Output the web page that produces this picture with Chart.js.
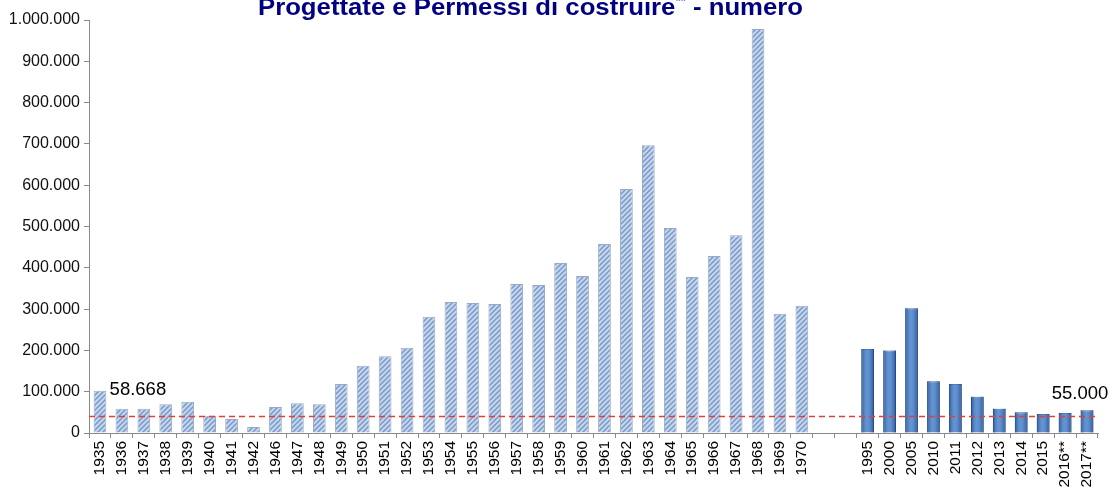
<!DOCTYPE html>
<html>
<head>
<meta charset="utf-8">
<script src="https://cdn.jsdelivr.net/npm/chart.js@4/dist/chart.umd.min.js"></script>
<style>
  body { margin: 0; background: #fff; }
  #wrap { width: 1113px; height: 487px; position: relative; }
</style>
</head>
<body>
<div id="wrap"><canvas id="chart"></canvas></div>
<script>
// Data
const years = ["1935", "1936", "1937", "1938", "1939", "1940", "1941", "1942",
  "1946", "1947", "1948", "1949", "1950", "1951", "1952", "1953", "1954", "1955",
  "1956", "1957", "1958", "1959", "1960", "1961", "1962", "1963", "1964", "1965",
  "1966", "1967", "1968", "1969", "1970", "", "",
  "1995", "2000", "2005", "2010", "2011", "2012", "2013", "2014", "2015", "2016**", "2017**"];
const permits = [102000, 58668, 58800, 69500, 75800, 41900, 33900, 14500,
  63000, 72000, 69500, 118600, 163000, 185700, 206500, 281600, 317000, 314700,
  312300, 360700, 358300, 411600, 380000, 457600, 590700, 697000, 496300, 377700,
  428500, 479000, 978000, 288800, 308200, null, null,
  203400, 200000, 301900, 125200, 118600, 88000, 58800, 50000, 46000, 48400, 55000];
const firstRecent = 35; // index of 1995
const refLevel = 40500;
const yTicks = [0, 100000, 200000, 300000, 400000, 500000, 600000, 700000, 800000, 900000, 1000000];
const titleMain = "Progettate e Permessi di costruire";
const titleSup = "**";
const titleEnd = " - numero";
const noteFirst = "58.668";
const noteLast = "55.000";

const FONT = "'Liberation Sans', Arial, sans-serif";

function fmt(v) {
  return String(v).replace(/\B(?=(\d{3})+(?!\d))/g, ".");
}

// hatch pattern for the historical bars
function hatch() {
  const c = document.createElement("canvas");
  c.width = 5; c.height = 5;
  const g = c.getContext("2d");
  g.fillStyle = "#c3d6ee";
  g.fillRect(0, 0, 5, 5);
  g.strokeStyle = "#7896c4";
  g.lineWidth = 1.4;
  g.beginPath();
  g.moveTo(-1, 6); g.lineTo(6, -1);
  g.moveTo(-1, 1); g.lineTo(1, -1);
  g.moveTo(4, 6); g.lineTo(6, 4);
  g.stroke();
  return g.createPattern(c, "repeat");
}
const hatchFill = hatch();

const extras = {
  id: "extras",
  afterDatasetsDraw(chart) {
    const { ctx, chartArea, scales } = chart;
    const x = scales.x, y = scales.y;
    const meta = chart.getDatasetMeta(0);
    ctx.save();
    // shading on recent bars
    meta.data.forEach((bar, i) => {
      if (i < firstRecent || permits[i] == null) return;
      const l = bar.x - bar.width / 2, r = bar.x + bar.width / 2;
      const gr = ctx.createLinearGradient(l, 0, r, 0);
      gr.addColorStop(0, "rgba(10,40,100,0.5)");
      gr.addColorStop(0.45, "rgba(255,255,255,0.2)");
      gr.addColorStop(1, "rgba(10,40,100,0.5)");
      ctx.fillStyle = gr;
      ctx.fillRect(l, bar.y, bar.width, bar.base - bar.y);
    });
    // reference line
    const ry = Math.round(y.getPixelForValue(refLevel)) + 0.5;
    ctx.strokeStyle = "#e0403a";
    ctx.lineWidth = 1.5;
    ctx.setLineDash([6, 4]);
    ctx.beginPath();
    ctx.moveTo(chartArea.left, ry);
    ctx.lineTo(chartArea.right, ry);
    ctx.stroke();
    ctx.setLineDash([]);
    // notes
    ctx.fillStyle = "#000";
    ctx.font = "18.5px " + FONT;
    ctx.textAlign = "center";
    ctx.textBaseline = "middle";
    ctx.fillText(noteFirst, x.getPixelForValue(1) + 16, y.getPixelForValue(104000));
    ctx.fillText(noteLast, x.getPixelForValue(years.length - 1) - 7, y.getPixelForValue(95000));
    // title, a little stretched sideways like the original
    ctx.fillStyle = "#000080";
    ctx.textAlign = "left";
    ctx.textBaseline = "alphabetic";
    const big = "bold 23px " + FONT, small = "bold 12px " + FONT;
    ctx.font = big;
    const w1 = ctx.measureText(titleMain).width;
    const w3 = ctx.measureText(titleEnd).width;
    ctx.font = small;
    const w2 = ctx.measureText(titleSup).width;
    const total = w1 + w2 + w3;
    const sx = 545 / total;
    ctx.translate(258, 0);
    ctx.scale(sx, 1);
    ctx.font = big;
    ctx.fillText(titleMain, 0, 15);
    ctx.font = small;
    ctx.fillText(titleSup, w1, 5);
    ctx.font = big;
    ctx.fillText(titleEnd, w1 + w2, 15);
    ctx.restore();
  }
};

new Chart(document.getElementById("chart"), {
  type: "bar",
  data: {
    labels: years,
    datasets: [{
      data: permits,
      backgroundColor: (c) => c.dataIndex < firstRecent ? hatchFill : "#3a78c8",
      borderColor: (c) => c.dataIndex < firstRecent ? "#9aaac4" : "#2a5a9a",
      borderWidth: 1,
      borderSkipped: "bottom",
      barPercentage: 0.58,
      categoryPercentage: 1
    }]
  },
  options: {
    responsive: true,
    maintainAspectRatio: false,
    animation: false,
    layout: { padding: { top: 20, right: 15, left: 0, bottom: 0 } },
    plugins: { legend: { display: false }, tooltip: { enabled: false }, title: { display: false } },
    scales: {
      x: {
        grid: { drawOnChartArea: false, tickLength: 5, color: "#8a8a8a", offset: true },
        border: { color: "#8a8a8a" },
        ticks: {
          autoSkip: false, minRotation: 90, maxRotation: 90, padding: 3,
          color: "#000", font: { family: FONT, size: 15.5 }
        },
        afterFit(s) { s.height = 54; }
      },
      y: {
        min: 0, max: 1000000,
        afterBuildTicks(s) { s.ticks = yTicks.map(v => ({ value: v })); },
        grid: { drawOnChartArea: false, tickLength: 5, color: "#8a8a8a" },
        border: { color: "#8a8a8a" },
        ticks: {
          padding: 4, color: "#111", font: { family: FONT, size: 16 },
          callback: (v) => fmt(v)
        },
        afterFit(s) { s.width = 89; }
      }
    }
  },
  plugins: [extras]
});
</script>
</body>
</html>
